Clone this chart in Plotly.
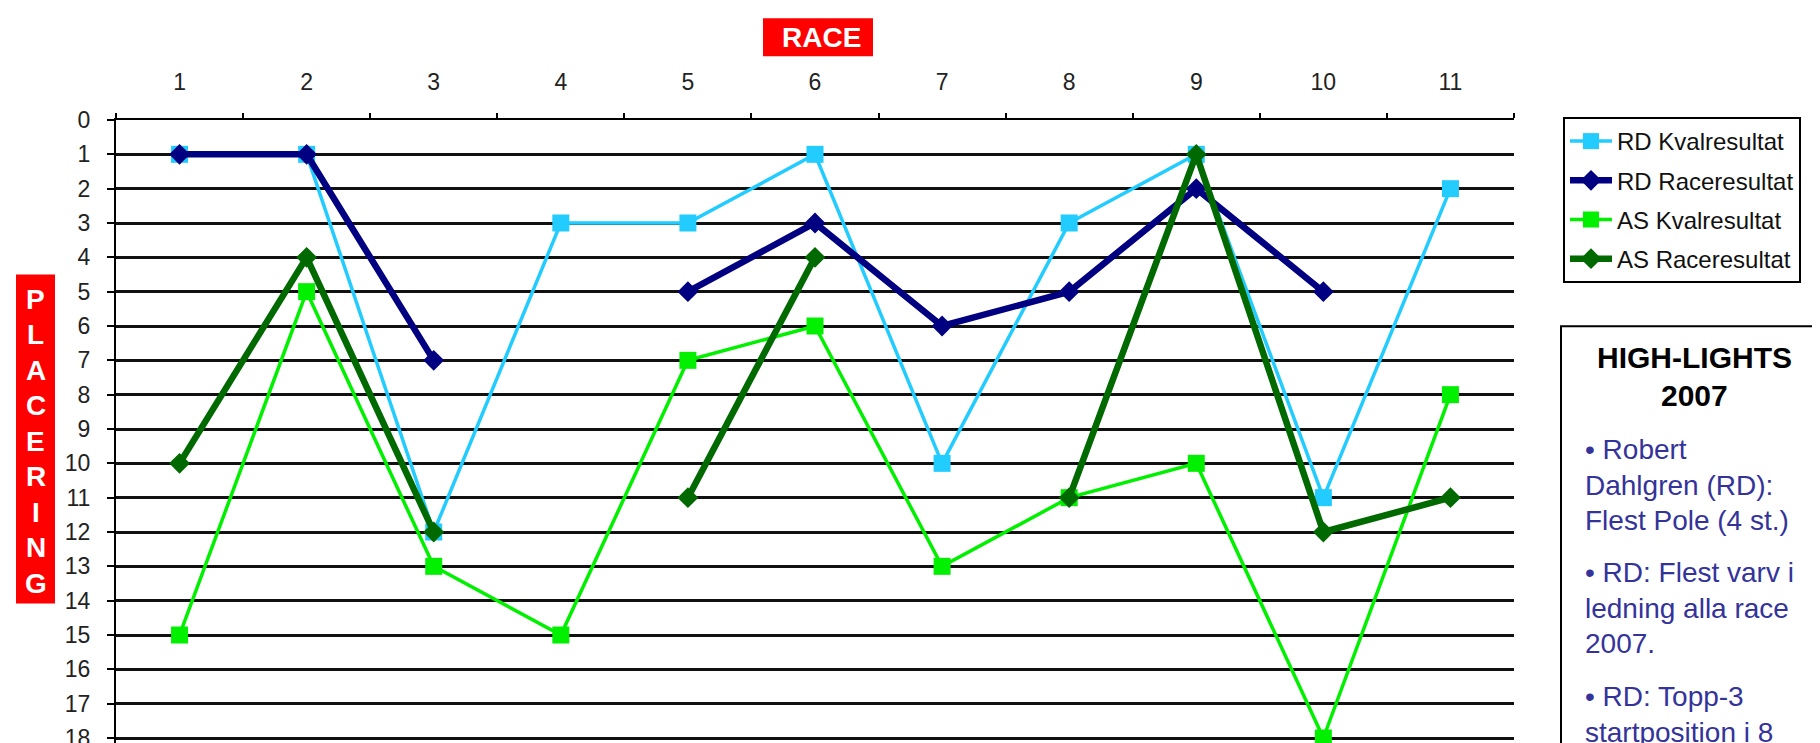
import plotly.graph_objects as go

races = ["1", "2", "3", "4", "5", "6", "7", "8", "9", "10", "11"]
rd_kval = [1, 1, 12, 3, 3, 1, 10, 3, 1, 11, 2]
rd_race = [1, 1, 7, None, 5, 3, 6, 5, 2, 5, None]
as_kval = [15, 5, 13, 15, 7, 6, 13, 11, 10, 18, 8]
as_race = [10, 4, 12, None, 11, 4, None, 11, 1, 12, 11]
y_ticks = list(range(0, 19))

highlight_title = ["HIGH-LIGHTS", "2007"]
highlight_lines = [
    "• Robert", "Dahlgren (RD):", "Flest Pole (4 st.)",
    "• RD: Flest varv i", "ledning alla race", "2007.",
    "• RD: Topp-3", "startposition i 8",
]
side_label = "PLACERING"

W, H = 1820, 743
L, T = 108, 112
PW = 1506 - L
PH = H - T


def px2x(px):
    return (px - L) / PW


def py2y(py):
    return (H - py) / PH


FONT = "Liberation Sans, Arial, sans-serif"

fig = go.Figure()
series = [
    ("RD Kvalresultat", rd_kval, "#22CCFF", 3.5, "square", 17),
    ("RD Raceresultat", rd_race, "#000080", 6.5, "diamond", 16),
    ("AS Kvalresultat", as_kval, "#00F000", 3.5, "square", 17),
    ("AS Raceresultat", as_race, "#006A00", 6.5, "diamond", 16),
]
for i, (name, vals, col, lw, sym, ms) in enumerate(series):
    fig.add_trace(go.Scatter(
        x=races, y=vals, name=name, mode="lines+markers",
        line=dict(color=col, width=lw),
        marker=dict(symbol=sym, size=ms, color=col),
        connectgaps=False, legendgroup="g%d" % i,
    ))

fig.update_layout(
    width=W, height=H,
    margin=dict(l=L, r=W - 1506, t=T, b=0),
    paper_bgcolor="white", plot_bgcolor="white",
    font=dict(family=FONT, color="#222"),
    showlegend=True,
    legend=dict(
        x=px2x(1555), y=py2y(109), xanchor="left", yanchor="top",
        bordercolor="black", borderwidth=2, bgcolor="white",
        font=dict(size=24, family=FONT, color="#111"),
        tracegroupgap=5, itemwidth=42,
    ),
    xaxis=dict(
        type="category", side="top", range=[-0.5, 10.5],
        showline=True, linecolor="black", linewidth=2,
        ticks="outside", ticklen=5, tickwidth=1.5, tickcolor="black",
        tickson="boundaries", showgrid=False,
        tickfont=dict(size=23, family=FONT, color="#222"),
        ticklabelstandoff=19,
    ),
    yaxis=dict(
        range=[18.32, 0], tickmode="array", tickvals=y_ticks,
        ticktext=[str(v) for v in y_ticks],
        showline=True, linecolor="black", linewidth=2,
        ticks="outside", ticklen=7, tickwidth=2, tickcolor="black",
        showgrid=True, gridcolor="#111", gridwidth=2.5, zeroline=False,
        tickfont=dict(size=23, family=FONT, color="#222"),
        ticklabelstandoff=12, ticklabeloverflow="allow",
    ),
)

shapes = [
    # RACE box
    dict(type="rect", xref="paper", yref="paper",
         x0=px2x(755), x1=px2x(865), y0=py2y(48), y1=py2y(10),
         fillcolor="#FF0000", line=dict(width=0), layer="above"),
    # PLACERING box
    dict(type="rect", xref="paper", yref="paper",
         x0=px2x(8), x1=px2x(47), y0=py2y(597), y1=py2y(267),
         fillcolor="#FF0000", line=dict(width=0), layer="above"),
    # Highlights box
    dict(type="rect", xref="paper", yref="paper",
         x0=px2x(1553), x1=px2x(1840), y0=py2y(760), y1=py2y(319),
         fillcolor="white", line=dict(color="black", width=2), layer="above"),
]
fig.update_layout(shapes=shapes)

ann = [
    dict(text="<b>RACE</b>", x=px2x(813), y=py2y(29), xref="paper", yref="paper",
         showarrow=False, xanchor="center", yanchor="middle",
         font=dict(size=28, color="white", family=FONT)),
]
for k, ch in enumerate(side_label):
    ann.append(dict(text="<b>%s</b>" % ch, x=px2x(27.5), y=py2y(292 + k * 35.6),
                    xref="paper", yref="paper", showarrow=False,
                    xanchor="center", yanchor="middle",
                    font=dict(size=28, color="white", family=FONT)))
for txt, cy in zip(highlight_title, [350, 388]):
    ann.append(dict(text="<b>%s</b>" % txt, x=px2x(1687), y=py2y(cy),
                    xref="paper", yref="paper", showarrow=False,
                    xanchor="center", yanchor="middle",
                    font=dict(size=30, color="black", family=FONT)))
line_y = [443, 479, 514, 566, 602, 637, 690, 726]
for txt, cy in zip(highlight_lines, line_y):
    ann.append(dict(text=txt, x=px2x(1575), y=py2y(cy),
                    xref="paper", yref="paper", showarrow=False,
                    xanchor="left", yanchor="middle",
                    font=dict(size=28, color="#33339A", family=FONT)))
fig.update_layout(annotations=ann)

fig.write_html("out.html")
